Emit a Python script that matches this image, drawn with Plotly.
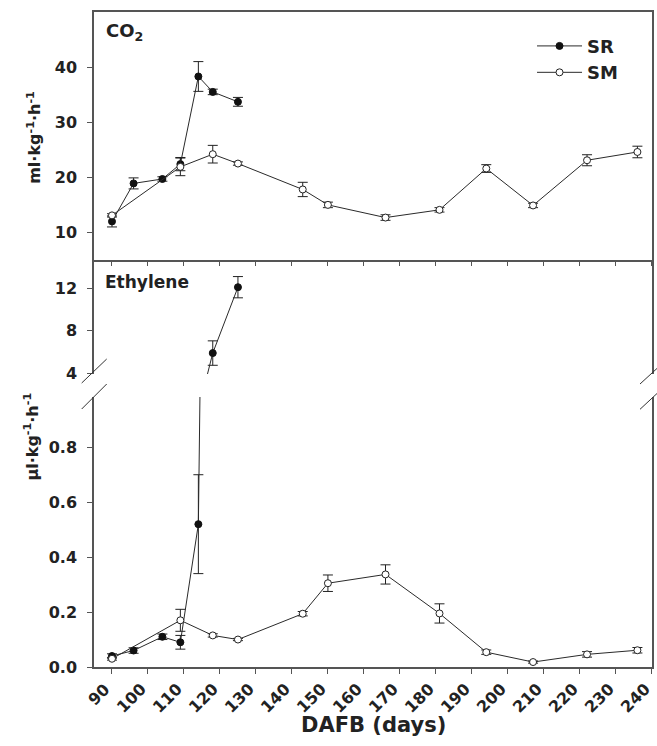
import plotly.graph_objects as go

# ---------------- data ----------------
days_sr = [90, 96, 104, 109, 114, 118, 125]
co2_sr = [12.0, 18.9, 19.7, 22.4, 38.3, 35.5, 33.7]
co2_sr_err = [1.0, 1.0, 0.4, 1.2, 2.7, 0.5, 0.8]
eth_sr = [0.04, 0.06, 0.11, 0.09, 0.52, 5.9, 12.1]
eth_sr_err = [0.008, 0.01, 0.01, 0.025, 0.18, 1.15, 1.0]

days_sm = [90, 109, 118, 125, 143, 150, 166, 181, 194, 207, 222, 236]
co2_sm = [13.1, 21.9, 24.2, 22.5, 17.8, 15.0, 12.7, 14.1, 21.6, 14.9, 23.1, 24.6]
co2_sm_err = [0.3, 1.6, 1.6, 0.3, 1.3, 0.5, 0.5, 0.4, 0.7, 0.4, 1.0, 1.05]
eth_sm = [0.03, 0.17, 0.115, 0.10, 0.194, 0.305, 0.337, 0.195, 0.054, 0.018, 0.046, 0.061]
eth_sm_err = [0.005, 0.04, 0.006, 0.004, 0.008, 0.03, 0.035, 0.035, 0.008, 0.004, 0.01, 0.01]

x_ticks = list(range(90, 241, 10))
x_tick_labels = [str(t) for t in x_ticks]
co2_ticks = [10, 20, 30, 40]
eth_hi_ticks = [4, 8, 12]
eth_lo_ticks = [0.0, 0.2, 0.4, 0.6, 0.8]

# ---------------- style ----------------
FONT = "DejaVu Sans"
LINE = "#2a2a2a"
AXC = "#555555"
TXT = "#222222"

def sr_style():
    return dict(mode="lines+markers",
                line=dict(color=LINE, width=1),
                marker=dict(symbol="circle", size=7, color="#111111",
                            line=dict(color="#111111", width=1)))

def sm_style():
    return dict(mode="lines+markers",
                line=dict(color=LINE, width=1),
                marker=dict(symbol="circle", size=7, color="white",
                            line=dict(color="#222222", width=1)))

def err(arr):
    return dict(type="data", array=arr, visible=True, color="#222222",
                thickness=1, width=5)

fig = go.Figure()

# CO2 panel
fig.add_trace(go.Scatter(x=days_sr, y=co2_sr, error_y=err(co2_sr_err),
                         xaxis="x2", yaxis="y", name="SR", legendgroup="SR",
                         showlegend=True, **sr_style()))
fig.add_trace(go.Scatter(x=days_sm, y=co2_sm, error_y=err(co2_sm_err),
                         xaxis="x2", yaxis="y", name="SM", legendgroup="SM",
                         showlegend=True, **sm_style()))

# Ethylene, upper (broken) part
fig.add_trace(go.Scatter(x=days_sr, y=eth_sr, error_y=err(eth_sr_err),
                         xaxis="x", yaxis="y2", name="SR", legendgroup="SR",
                         showlegend=False, **sr_style()))
# Ethylene, lower part
fig.add_trace(go.Scatter(x=days_sr, y=eth_sr, error_y=err(eth_sr_err),
                         xaxis="x", yaxis="y3", name="SR", legendgroup="SR",
                         showlegend=False, **sr_style()))
fig.add_trace(go.Scatter(x=days_sm, y=eth_sm, error_y=err(eth_sm_err),
                         xaxis="x", yaxis="y3", name="SM", legendgroup="SM",
                         showlegend=False, **sm_style()))

tickfont = dict(family=FONT, size=16, color=TXT, weight="bold")

common_y = dict(showline=True, linecolor=AXC, linewidth=1.5, mirror=True,
                ticks="outside", ticklen=5, tickcolor=AXC, tickwidth=1,
                showgrid=False, zeroline=False, tickfont=tickfont,
                ticklabelstandoff=7, automargin=False)

XR = [85, 240.05]

fig.update_layout(
    width=657, height=746,
    margin=dict(l=94, r=5, t=12, b=79, autoexpand=False),
    paper_bgcolor="white", plot_bgcolor="white",
    xaxis=dict(domain=[0, 1], anchor="y3", range=XR,
               tickvals=x_ticks, showticklabels=False,
               showline=True, linecolor=AXC, linewidth=1.5,
               ticks="outside", ticklen=5, tickcolor=AXC, tickwidth=1,
               showgrid=False, zeroline=False, automargin=False),
    xaxis2=dict(domain=[0, 1], anchor="y", matches="x", range=XR,
                tickvals=x_ticks, showticklabels=False,
                showline=True, linecolor=AXC, linewidth=1.5, mirror=True,
                ticks="outside", ticklen=4, tickcolor=AXC, tickwidth=1,
                showgrid=False, zeroline=False, automargin=False),
    yaxis=dict(domain=[0.62137, 1.0], range=[5, 50], tickvals=co2_ticks,
               anchor="x2", **common_y),
    yaxis2=dict(domain=[0.44733, 0.62137], range=[3.93, 14.66],
                tickvals=eth_hi_ticks, anchor="x", **common_y),
    yaxis3=dict(domain=[0.0, 0.41221], range=[0, 0.983],
                tickvals=eth_lo_ticks, tickformat=".1f", anchor="x", **common_y),
    legend=dict(x=0.785, y=0.976, xanchor="left", yanchor="top",
                bgcolor="rgba(0,0,0,0)", itemwidth=45,
                font=dict(family=FONT, size=18, color=TXT, weight="bold"),
                tracegroupgap=0),
    showlegend=True,
)

# rotated x tick labels: top-right corner of each label sits just below its tick
for t, lab in zip(x_ticks, x_tick_labels):
    fig.add_annotation(text="<b>%s</b>" % lab, x=t, xref="x",
                       y=-0.018, yref="paper", xanchor="right", yanchor="top",
                       xshift=3, textangle=-45, showarrow=False,
                       borderpad=0,
                       font=dict(family=FONT, size=16, color=TXT))

fig.add_annotation(text="<b>ml·kg<sup>-1</sup>·h<sup>-1</sup></b>", textangle=-90,
                   xref="paper", yref="paper", x=-0.108, y=0.809,
                   xanchor="center", yanchor="middle", showarrow=False,
                   font=dict(family=FONT, size=16, color=TXT))
fig.add_annotation(text="<b>µl·kg<sup>-1</sup>·h<sup>-1</sup></b>", textangle=-90,
                   xref="paper", yref="paper", x=-0.112, y=0.351,
                   xanchor="center", yanchor="middle", showarrow=False,
                   font=dict(family=FONT, size=16, color=TXT))
fig.add_annotation(text="<b>CO<sub>2</sub></b>", xref="paper", yref="paper",
                   x=0.018, y=0.969, xanchor="left", yanchor="middle",
                   showarrow=False, font=dict(family=FONT, size=18, color=TXT))
fig.add_annotation(text="<b>Ethylene</b>", xref="paper", yref="paper",
                   x=0.016, y=0.588, xanchor="left", yanchor="middle",
                   showarrow=False, font=dict(family=FONT, size=17, color=TXT))
fig.add_annotation(text="<b>DAFB (days)</b>", xref="paper", yref="paper",
                   x=0.5, y=-0.0885, xanchor="center", yanchor="middle",
                   showarrow=False, font=dict(family=FONT, size=21, color=TXT))

# axis-break marks (decoration, paper coordinates)
def px_to_paper(xp, yp):
    return ((xp - 94) / 558.0, (667 - yp) / 655.0)

for (x0, y0, x1, y1) in [(81.7, 383, 106.7, 359), (81.7, 409, 106.7, 384),
                         (640, 384, 664, 362), (640, 409.3, 664, 387)]:
    a = px_to_paper(x0, y0)
    b = px_to_paper(x1, y1)
    fig.add_shape(type="line", xref="paper", yref="paper",
                  x0=a[0], y0=a[1], x1=b[0], y1=b[1],
                  line=dict(color="#333333", width=1))

fig.write_html("out.html", config={"displayModeBar": False},
               post_script="document.body.style.margin='0';"
                           "document.body.style.overflow='hidden';")
